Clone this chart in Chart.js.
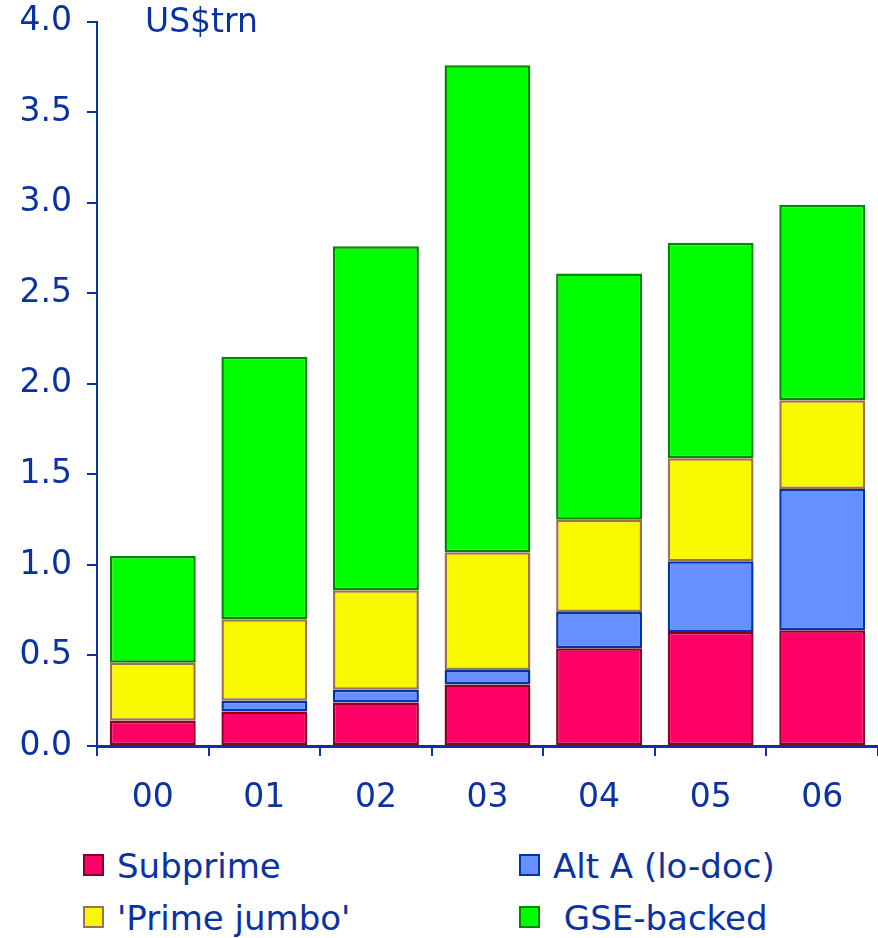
<!DOCTYPE html>
<html>
<head>
<meta charset="utf-8">
<script src="https://cdn.jsdelivr.net/npm/chart.js@4"></script>
<style>
    body { margin: 0; background: #fff; font-family: "DejaVu Sans", Verdana, sans-serif; color: #0b32a3; overflow: hidden; }
    #wrap { position: relative; width: 878px; height: 938px; overflow: hidden; }
    #mortgageChart { position: absolute; left: 0; top: -13px; }
    #unit { position: absolute; left: 145px; top: 1px; font-size: 33px; }
    .item { position: absolute; font-size: 34px; line-height: 40px; white-space: nowrap; }
    .box { position: absolute; left: -34px; top: 8px; width: 21px; height: 22px; border: 2px solid; box-sizing: border-box; }
</style>
</head>
<body>
<div id="wrap">
    <canvas id="mortgageChart" width="878" height="843"></canvas>
    <div id="unit">US$trn</div>
    <div id="legend"></div>
</div>
<script>
const years = ["00", "01", "02", "03", "04", "05", "06"];
const subprime = [0.14, 0.19, 0.24, 0.34, 0.54, 0.63, 0.64];
const altA = [0, 0.06, 0.07, 0.08, 0.20, 0.39, 0.78];
const primeJumbo = [0.32, 0.45, 0.55, 0.65, 0.51, 0.57, 0.49];
const gseBacked = [0.59, 1.45, 1.90, 2.69, 1.36, 1.19, 1.08];

const ink = "#0b32a3";

function series(label, data, fill, edge) {
    return {
        label: label,
        data: data,
        backgroundColor: fill,
        borderColor: edge,
        borderWidth: 2.5,
        borderSkipped: false,
        barPercentage: 0.77,
        categoryPercentage: 1
    };
}

const datasets = [
    series("Subprime", subprime, "#ff0066", "#8b0020"),
    series("Alt A (lo-doc)", altA, "#6690ff", "#0033aa"),
    series("'Prime jumbo'", primeJumbo, "#f8f800", "#a07050"),
    series(" GSE-backed", gseBacked, "#00ff00", "#008800")
];

new Chart(document.getElementById("mortgageChart"), {
    type: "bar",
    data: { labels: years, datasets: datasets },
    options: {
        responsive: false,
        animation: false,
        layout: { padding: { top: 2, right: 0, left: 0, bottom: 0 } },
        plugins: { legend: { display: false }, tooltip: { enabled: false } },
        scales: {
            x: {
                stacked: true,
                offset: true,
                grid: { offset: true, drawOnChartArea: false, tickLength: 10, color: ink, lineWidth: 2 },
                border: { color: ink, width: 3 },
                ticks: { color: ink, font: { family: "DejaVu Sans", size: 33 }, padding: 23, maxRotation: 0 },
                afterFit: function (scale) { scale.height = 84; }
            },
            y: {
                stacked: true,
                min: 0,
                max: 4,
                grid: { drawOnChartArea: false, tickLength: 10, color: ink, lineWidth: 2 },
                border: { color: ink, width: 2 },
                ticks: {
                    stepSize: 0.5,
                    color: ink,
                    padding: 15,
                    font: { family: "DejaVu Sans", size: 33 },
                    callback: function (v) { return v.toFixed(1); }
                },
                afterFit: function (scale) { scale.width = 97; }
            }
        }
    }
});

// two-column legend under the chart
const spots = [[117, 846], [553, 846], [117, 898], [553, 898]];
const legend = document.getElementById("legend");
datasets.forEach(function (d, i) {
    const item = document.createElement("div");
    item.className = "item";
    item.style.left = spots[i][0] + "px";
    item.style.top = spots[i][1] + "px";
    item.innerHTML = '<span class="box" style="background:' + d.backgroundColor +
        ';border-color:' + d.borderColor + '"></span>' + d.label.replace(/ /g, "&nbsp;");
    legend.appendChild(item);
});
</script>
</body>
</html>
